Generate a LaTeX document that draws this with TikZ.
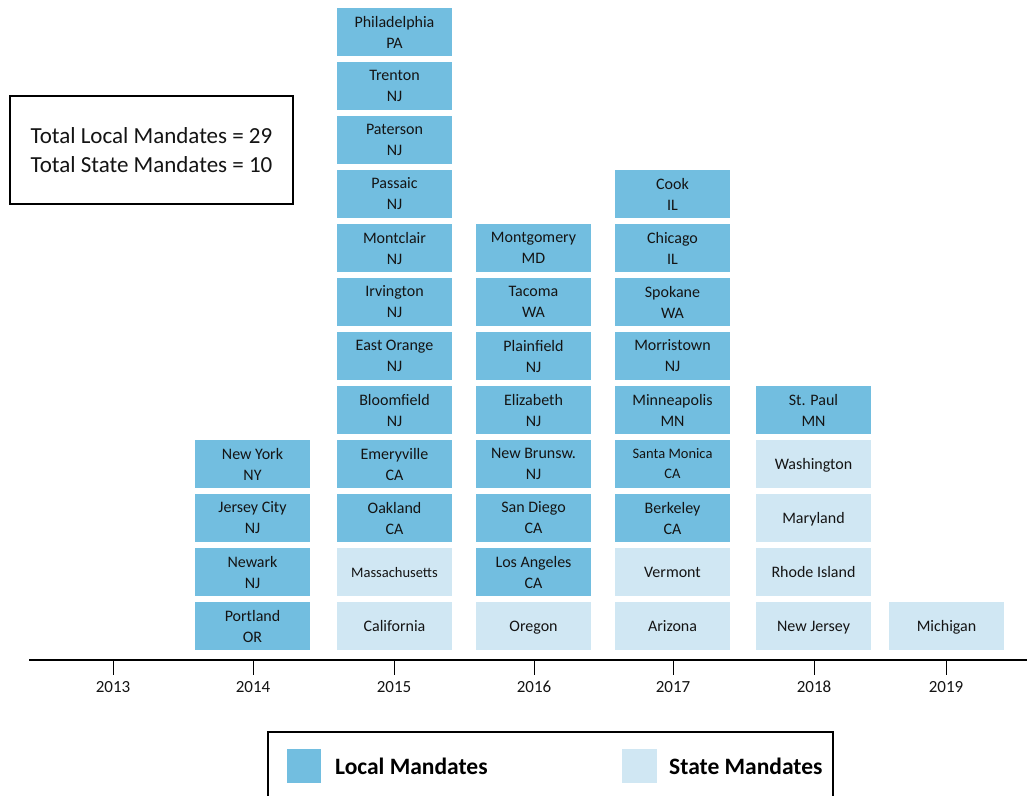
\documentclass[tikz,border=0pt]{standalone}
\usepackage{fontspec}
\setmainfont{Carlito}
\definecolor{localc}{RGB}{114,190,224}
\definecolor{statec}{RGB}{208,231,243}
\definecolor{txt}{RGB}{20,20,20}
\begin{document}
\begin{tikzpicture}[x=1pt,y=-1pt,
  box/.style={minimum width=115pt,minimum height=48pt,inner sep=0pt,align=center,text=txt,
    font=\fontsize{16}{21}\selectfont},
  loc/.style={box,fill=localc},
  sta/.style={box,fill=statec,text height=11pt,text depth=0pt},
  small/.style={font=\fontsize{14.5}{20}\selectfont},
  yearlbl/.style={text=txt,font=\fontsize{17}{19}\selectfont,inner sep=0pt},
  tick/.style={line width=1pt,draw=black}]
\clip (0,0) rectangle (1027,795);
\fill[white] (0,0) rectangle (1027,795);
% summary box
\node[draw=black,line width=1.2pt,minimum width=283pt,minimum height=108pt,align=center,text=txt,
  font=\fontsize{23}{29}\selectfont] (summary) at (151.5,150)
  {Total Local Mandates = 29\\Total State Mandates = 10};
% 2014
\node[loc] (a1) at (252.5,626) {Portland\\OR};
\node[loc] (a2) at (252.5,572) {Newark\\NJ};
\node[loc] (a3) at (252.5,518) {Jersey City\\NJ};
\node[loc] (a4) at (252.5,464) {New York\\NY};
% 2015
\node[sta] (b1) at (394.5,626) {California};
\node[sta,small] (b2) at (394.5,572) {Massachusetts};
\node[loc] (b3) at (394.5,518) {Oakland\\CA};
\node[loc] (b4) at (394.5,464) {Emeryville\\CA};
\node[loc] (b5) at (394.5,410) {Bloomfield\\NJ};
\node[loc] (b6) at (394.5,356) {East Orange\\NJ};
\node[loc] (b7) at (394.5,302) {Irvington\\NJ};
\node[loc] (b8) at (394.5,248) {Montclair\\NJ};
\node[loc] (b9) at (394.5,194) {Passaic\\NJ};
\node[loc] (b10) at (394.5,140) {Paterson\\NJ};
\node[loc] (b11) at (394.5,86) {Trenton\\NJ};
\node[loc] (b12) at (394.5,32) {Philadelphia\\PA};
% 2016
\node[sta] (c1) at (533.5,626) {Oregon};
\node[loc] (c2) at (533.5,572) {Los Angeles\\CA};
\node[loc] (c3) at (533.5,518) {San Diego\\CA};
\node[loc] (c4) at (533.5,464) {New Brunsw.\\NJ};
\node[loc] (c5) at (533.5,410) {Elizabeth\\NJ};
\node[loc] (c6) at (533.5,356) {Plainfield\\NJ};
\node[loc] (c7) at (533.5,302) {Tacoma\\WA};
\node[loc] (c8) at (533.5,248) {Montgomery\\MD};
% 2017
\node[sta] (d1) at (672.5,626) {Arizona};
\node[sta] (d2) at (672.5,572) {Vermont};
\node[loc] (d3) at (672.5,518) {Berkeley\\CA};
\node[loc,small] (d4) at (672.5,464) {Santa Monica\\CA};
\node[loc] (d5) at (672.5,410) {Minneapolis\\MN};
\node[loc] (d6) at (672.5,356) {Morristown\\NJ};
\node[loc] (d7) at (672.5,302) {Spokane\\WA};
\node[loc] (d8) at (672.5,248) {Chicago\\IL};
\node[loc] (d9) at (672.5,194) {Cook\\IL};
% 2018
\node[sta] (e1) at (813.5,626) {New Jersey};
\node[sta] (e2) at (813.5,572) {Rhode Island};
\node[sta] (e3) at (813.5,518) {Maryland};
\node[sta] (e4) at (813.5,464) {Washington};
\node[loc] (e5) at (813.5,410) {St. Paul\\MN};
% 2019
\node[sta] (f1) at (946.5,626) {Michigan};
% axis
\coordinate (axl) at (29,660);
\coordinate (axr) at (1027,660);
\draw[line width=2pt] (axl) -- (axr);
\foreach \xx/\yr in {113/2013,253/2014,394/2015,534/2016,673/2017,814/2018,946/2019}{
  \coordinate (t\yr) at (\xx,660);
  \coordinate (tb\yr) at (\xx,675);
  \draw[tick] (t\yr) -- (tb\yr);
  \node[yearlbl] (y\yr) at (\xx,687) {\yr};
}
% legend
\draw[line width=1.5pt] (268,800) -- (268,732) -- (833,732) -- (833,800);
\node[fill=localc,minimum width=34pt,minimum height=34pt,inner sep=0pt] (lsw) at (304,766) {};
\node[anchor=west,inner sep=0pt,text=black,font=\fontsize{23.5}{25}\selectfont\bfseries] (ltx) at (335,766) {Local Mandates};
\node[fill=statec,minimum width=35pt,minimum height=34pt,inner sep=0pt] (ssw) at (639.5,766) {};
\node[anchor=west,inner sep=0pt,text=black,font=\fontsize{23.5}{25}\selectfont\bfseries] (stx) at (669,766) {State Mandates};
\end{tikzpicture}
\end{document}
